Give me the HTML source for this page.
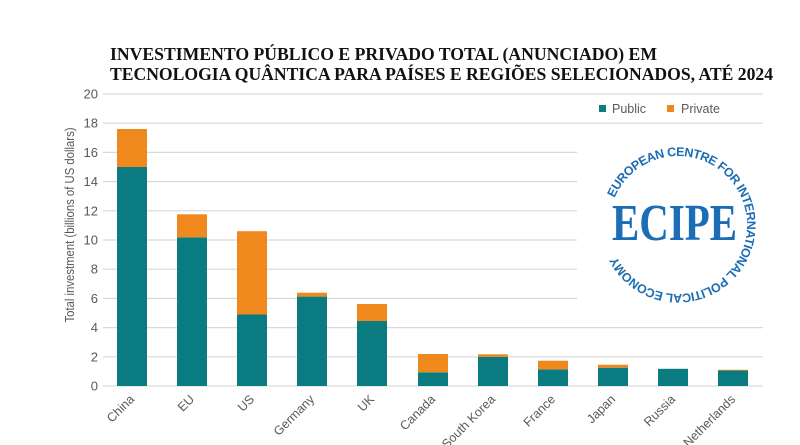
<!DOCTYPE html>
<html>
<head>
<meta charset="utf-8">
<style>
  html, body { margin:0; padding:0; background:#ffffff; }
  svg { display:block; }
</style>
</head>
<body>
<svg width="800" height="445" viewBox="0 0 800 445" xmlns="http://www.w3.org/2000/svg">
  <rect width="800" height="445" fill="#ffffff"/>

  <!-- Title -->
  <g font-family="Liberation Serif, serif" font-weight="bold" font-size="18" fill="#111111">
    <text x="110" y="60" textLength="547" lengthAdjust="spacingAndGlyphs">INVESTIMENTO PÚBLICO E PRIVADO TOTAL (ANUNCIADO) EM</text>
    <text x="110" y="80" textLength="663" lengthAdjust="spacingAndGlyphs">TECNOLOGIA QUÂNTICA PARA PAÍSES E REGIÕES SELECIONADOS, ATÉ 2024</text>
  </g>

  <!-- Gridlines -->
  <g stroke="#d9d9d9" stroke-width="1.2">
    <line x1="103" y1="94" x2="763" y2="94"/>
    <line x1="103" y1="123.2" x2="763" y2="123.2"/>
    <line x1="103" y1="152.4" x2="577" y2="152.4"/>
    <line x1="103" y1="181.6" x2="577" y2="181.6"/>
    <line x1="103" y1="210.8" x2="577" y2="210.8"/>
    <line x1="103" y1="240" x2="577" y2="240"/>
    <line x1="103" y1="269.2" x2="577" y2="269.2"/>
    <line x1="103" y1="298.4" x2="577" y2="298.4"/>
    <line x1="103" y1="327.6" x2="763" y2="327.6"/>
    <line x1="103" y1="356.8" x2="763" y2="356.8"/>
    <line x1="103" y1="386" x2="763" y2="386"/>
  </g>

  <!-- Y tick labels -->
  <g font-family="Liberation Sans, sans-serif" font-size="13" fill="#595959" text-anchor="end">
    <text x="98" y="98.5">20</text>
    <text x="98" y="127.7">18</text>
    <text x="98" y="156.9">16</text>
    <text x="98" y="186.1">14</text>
    <text x="98" y="215.3">12</text>
    <text x="98" y="244.5">10</text>
    <text x="98" y="273.7">8</text>
    <text x="98" y="302.9">6</text>
    <text x="98" y="332.1">4</text>
    <text x="98" y="361.3">2</text>
    <text x="98" y="390.5">0</text>
  </g>

  <!-- Y axis title -->
  <text transform="translate(74,225) rotate(-90)" font-family="Liberation Sans, sans-serif" font-size="13" fill="#595959" text-anchor="middle" textLength="195" lengthAdjust="spacingAndGlyphs">Total investment (billions of US dollars)</text>

  <!-- Bars: public (teal) -->
  <g fill="#0b7b82">
    <rect x="117" y="167" width="30" height="219"/>
    <rect x="177" y="237.4" width="30" height="148.6"/>
    <rect x="237" y="314.5" width="30" height="71.5"/>
    <rect x="297" y="296.6" width="30" height="89.4"/>
    <rect x="357" y="321" width="30" height="65"/>
    <rect x="418" y="372.3" width="30" height="13.7"/>
    <rect x="478" y="356.8" width="30" height="29.2"/>
    <rect x="538" y="369.4" width="30" height="16.6"/>
    <rect x="598" y="367.7" width="30" height="18.3"/>
    <rect x="658" y="368.8" width="30" height="17.2"/>
    <rect x="718" y="370.4" width="30" height="15.6"/>
  </g>
  <!-- Bars: private (orange) -->
  <g fill="#f0891d">
    <rect x="117" y="129" width="30" height="38"/>
    <rect x="177" y="214.3" width="30" height="23.1"/>
    <rect x="237" y="231.2" width="30" height="83.3"/>
    <rect x="297" y="292.7" width="30" height="3.9"/>
    <rect x="357" y="304" width="30" height="17"/>
    <rect x="418" y="354" width="30" height="18.3"/>
    <rect x="478" y="354.3" width="30" height="2.5"/>
    <rect x="538" y="360.7" width="30" height="8.7"/>
    <rect x="598" y="364.7" width="30" height="3"/>
    <rect x="718" y="369.8" width="30" height="0.8"/>
  </g>

  <!-- X labels -->
  <g font-family="Liberation Sans, sans-serif" font-size="12.5" fill="#595959" text-anchor="end">
    <text transform="translate(135,400) rotate(-45)">China</text>
    <text transform="translate(195,400) rotate(-45)">EU</text>
    <text transform="translate(255,400) rotate(-45)">US</text>
    <text transform="translate(315,400) rotate(-45)">Germany</text>
    <text transform="translate(375,400) rotate(-45)">UK</text>
    <text transform="translate(436,400) rotate(-45)">Canada</text>
    <text transform="translate(496,400) rotate(-45)">South Korea</text>
    <text transform="translate(556,400) rotate(-45)">France</text>
    <text transform="translate(616,400) rotate(-45)">Japan</text>
    <text transform="translate(676,400) rotate(-45)">Russia</text>
    <text transform="translate(736,400) rotate(-45)">Netherlands</text>
  </g>

  <!-- Legend -->
  <rect x="599" y="105" width="7" height="7" fill="#0b7b82"/>
  <text x="612" y="113" font-family="Liberation Sans, sans-serif" font-size="12.5" fill="#595959">Public</text>
  <rect x="667" y="105" width="7" height="7" fill="#f0891d"/>
  <text x="681" y="113" font-family="Liberation Sans, sans-serif" font-size="12.5" fill="#595959">Private</text>

  <!-- ECIPE logo -->
  <defs>
    <path id="ring" d="M 614.5 198 A 69 69 0 1 1 741.5 252 A 69 69 0 1 1 614.5 198"/>
  </defs>
  <text font-family="Liberation Sans, sans-serif" font-weight="bold" font-size="12.5" fill="#1b6db5">
    <textPath href="#ring" startOffset="0" textLength="373" lengthAdjust="spacing">EUROPEAN CENTRE FOR INTERNATIONAL POLITICAL ECONOMY</textPath>
  </text>
  <text x="612" y="240" font-family="Liberation Serif, serif" font-weight="bold" font-size="52" fill="#1b6db5" textLength="125" lengthAdjust="spacingAndGlyphs">ECIPE</text>
</svg>
</body>
</html>
